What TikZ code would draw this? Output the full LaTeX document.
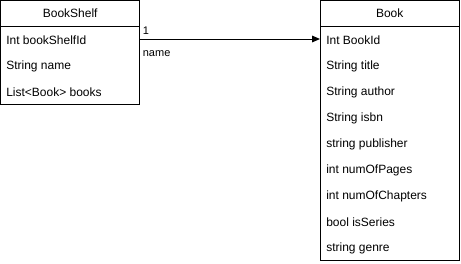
\documentclass[tikz,border=0pt]{standalone}
\usepackage{fontspec}
\setmainfont{Liberation Sans}
\usetikzlibrary{arrows.meta}

\begin{document}
\begin{tikzpicture}[x=0.75pt,y=-0.75pt]
        \tikzstyle{every node}=[font=\fontsize{9}{11}\selectfont]
        \tikzstyle{head}=[draw,line width=0.75pt,anchor=north west,inner sep=0,outer sep=0,minimum height=19.5pt]
        \tikzstyle{body}=[draw,line width=0.75pt,anchor=north west,inner sep=0,outer sep=0]
        \tikzstyle{field}=[anchor=west,inner sep=0]
        \tikzstyle{endlabel}=[anchor=base west,inner sep=0,xshift=1.8pt,font=\fontsize{8.25}{10}\selectfont]
        \useasboundingbox (0,0) rectangle (461,264);

            % BookShelf class
            \node[head,minimum width=104.6pt] (shelfhead) at (0.5,0.5) {BookShelf};
            \node[body,minimum width=104.6pt,minimum height=58.5pt] (shelfbody) at (shelfhead.south west) {};
            \node[field] (shelfid) at (6,40) {Int bookShelfId};
            \node[field] (shelfname) at (6,66) {String name};
            \node[field] (shelfbooks) at (6,92) {List<Book> books};

            % Book class
            \node[head,minimum width=104.6pt] (bookhead) at (320,0.5) {Book};
            \node[body,minimum width=104.6pt,minimum height=175.5pt] (bookbody) at (bookhead.south west) {};
            \node[field] (bookid) at (326,40) {Int BookId};
            \node[field] (title) at (326,66) {String title};
            \node[field] (author) at (326,92) {String author};
            \node[field] (isbn) at (326,118) {String isbn};
            \node[field] (publisher) at (326,144) {string publisher};
            \node[field] (pages) at (326,170) {int numOfPages};
            \node[field] (chapters) at (326,196) {int numOfChapters};
            \node[field] (series) at (326,222) {bool isSeries};
            \node[field] (genre) at (326,248) {string genre};

            \draw[line width=0.75pt,-{Triangle[length=6pt,width=5pt]}] ([yshift=0.75pt]shelfbody.east |- bookid) -- ([yshift=0.75pt]bookbody.west |- bookid)
            node[pos=0,endlabel,yshift=3.75pt] {1}
            node[pos=0,endlabel,yshift=-12.75pt] {name};
        \end{tikzpicture}
\end{document}
